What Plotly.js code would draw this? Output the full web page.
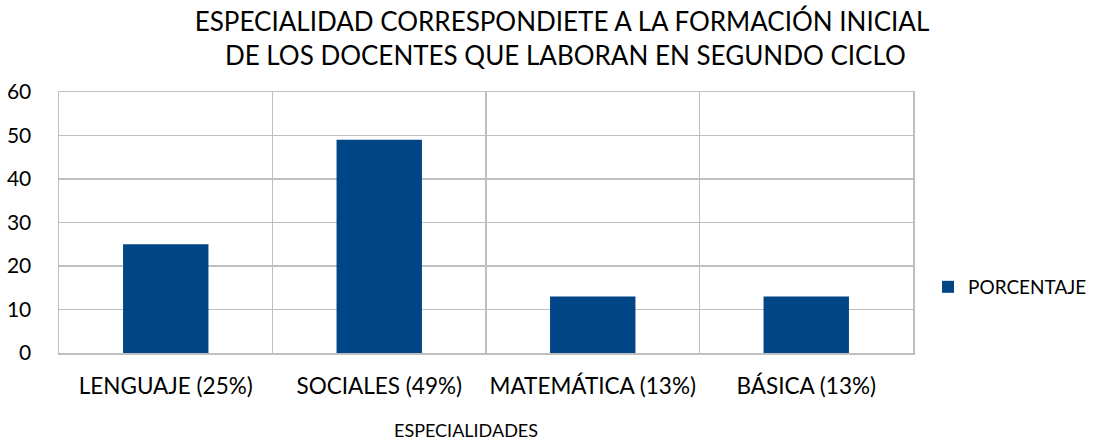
<!DOCTYPE html>
<html>
<head>
<meta charset="utf-8">
<script src="https://cdn.plot.ly/plotly-3.0.1.min.js"></script>
<style>html,body{margin:0;padding:0;background:#fff;}</style>
</head>
<body>
<div id="chart" style="width:1094px;height:440px;"></div>
<script>
const categories = ["LENGUAJE (25%)", "SOCIALES (49%)", "MATEMÁTICA (13%)", "BÁSICA (13%)"];
const porcentaje = [25, 49, 13, 13];
const seriesName = "PORCENTAJE";
const yTicks = [0, 10, 20, 30, 40, 50, 60];

const font = "Lato, 'Open Sans', sans-serif";
const trace = {
  type: "bar",
  x: categories,
  y: porcentaje,
  name: seriesName,
  marker: {color: "#004586"},
  width: 0.4,
  showlegend: true
};
const layout = {
  width: 1094, height: 440,
  margin: {l: 59, r: 181, t: 92, b: 87, autoexpand: false},
  paper_bgcolor: "#fff", plot_bgcolor: "#fff",
  font: {family: font, color: "#000"},
  title: {
    text: "ESPECIALIDAD CORRESPONDIETE A LA FORMACIÓN INICIAL<br> DE LOS DOCENTES QUE LABORAN EN SEGUNDO CICLO",
    font: {size: 26, family: font, color: "#000"},
    x: 0.589, xanchor: "center", xref: "paper",
    y: 0.93, yanchor: "top", yref: "container"
  },
  xaxis: {
    type: "category",
    tickson: "boundaries",
    showgrid: true, gridcolor: "#bfbfbf", gridwidth: 1.5,
    showline: true, linecolor: "#bfbfbf", linewidth: 1.5, mirror: true,
    ticks: "", tickangle: 0, tickfont: {size: 22.5, family: font}, ticklabelstandoff: 12
  },
  yaxis: {
    range: [0, 60], tickvals: yTicks,
    showgrid: true, gridcolor: "#bfbfbf", gridwidth: 1.5,
    showline: true, linecolor: "#bfbfbf", linewidth: 1.5, mirror: true,
    ticks: "", tickfont: {size: 21, family: font}, ticklabelstandoff: 22,
    zeroline: false
  },
  annotations: [{
    text: "ESPECIALIDADES", showarrow: false,
    xref: "paper", x: 0.477, xanchor: "center",
    yref: "paper", y: -0.295, yanchor: "middle",
    font: {size: 18, family: font, color: "#000"}
  }],
  legend: {
    x: 1.0176, xanchor: "left", y: 0.253, yanchor: "middle",
    font: {size: 19, family: font}, itemwidth: 30,
    bgcolor: "rgba(0,0,0,0)"
  }
};
Plotly.newPlot("chart", [trace], layout, {displayModeBar: false, staticPlot: true});
</script>
</body>
</html>
